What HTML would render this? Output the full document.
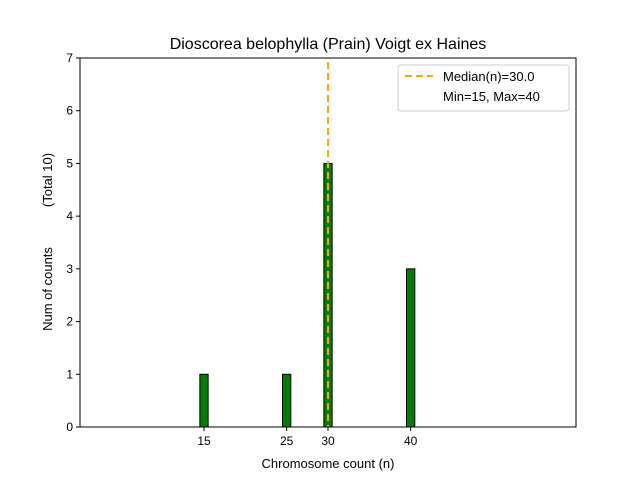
<!DOCTYPE html>
<html><head><meta charset="utf-8"><style>body{margin:0;background:#fff}svg{display:block;font-family:"Liberation Sans","DejaVu Sans",sans-serif}</style></head>
<body>
<svg id="chart" width="640" height="480">
<rect width="640" height="480" fill="#fff"/>
<text x="328" y="49" font-size="16" text-anchor="middle">Dioscorea belophylla (Prain) Voigt ex Haines</text>
<g id="plot"></g>
</svg>
<script>
const categories = [15, 25, 30, 40];
const counts = [1, 1, 5, 3];
const yTicks = [0, 1, 2, 3, 4, 5, 6, 7];
const xTicks = [15, 25, 30, 40];
const median = 30.0;
const minVal = 15, maxVal = 40, total = 10;

const L = 80, R = 576, T = 58, B = 427;
const xMin = 0, xMax = 60, yMax = 7;
const xs = v => L + (v - xMin) / (xMax - xMin) * (R - L);
const ys = v => B - v / yMax * (B - T);
const NS = "http://www.w3.org/2000/svg";
const g = document.getElementById('plot');
function mk(tag, attrs, parent) {
  const e = document.createElementNS(NS, tag);
  for (const k in attrs) e.setAttribute(k, attrs[k]);
  (parent || g).appendChild(e);
  return e;
}
const base = mk('line', {x1: xs(0), x2: xs(43.5), y1: B, y2: B, stroke: '#000', 'stroke-width': 1});


categories.forEach((c, i) => {
  const r = mk('rect', {x: xs(c - 0.5), y: ys(counts[i]), width: xs(c + 0.5) - xs(c - 0.5), height: B - ys(counts[i]), fill: 'green', stroke: '#000', 'stroke-width': 1});
  
  
});
const med = mk('line', {x1: xs(median), x2: xs(median), y1: T + 4, y2: B, stroke: 'orange', 'stroke-width': 2, 'stroke-dasharray': '7,4'});


const frame = mk('rect', {x: L, y: T, width: R - L, height: B - T, fill: 'none', stroke: '#000', 'stroke-width': 1});


yTicks.forEach(t => {
  const tk = mk('line', {x1: L - 4, x2: L, y1: ys(t), y2: ys(t), stroke: '#000'});
  
  
  const tx = mk('text', {x: L - 7, y: ys(t) + 4, 'font-size': 12, 'text-anchor': 'end'});
  tx.textContent = t;
  
  
});
xTicks.forEach(t => {
  const tk = mk('line', {x1: xs(t), x2: xs(t), y1: B, y2: B + 4, stroke: '#000'});
  
  
  const tx = mk('text', {x: xs(t), y: B + 18, 'font-size': 12, 'text-anchor': 'middle'});
  tx.textContent = t;
  
  
});
const xl = mk('text', {x: (L + R) / 2, y: 468, 'font-size': 13, 'text-anchor': 'middle'});
xl.textContent = 'Chromosome count (n)';


const yl = mk('text', {x: 0, y: 0, 'font-size': 13, 'text-anchor': 'middle', transform: 'translate(52,289) rotate(-90)'});
yl.textContent = 'Num of counts';


const yl2 = mk('text', {x: 0, y: 0, 'font-size': 13, 'text-anchor': 'middle', transform: 'translate(52,180) rotate(-90)'});
yl2.textContent = '(Total ' + total + ')';


const lg = mk('g', {});


mk('rect', {x: 398, y: 65, width: 171, height: 46, rx: 3, fill: '#fff', stroke: '#ccc'}, lg);
mk('line', {x1: 405, x2: 433, y1: 76, y2: 76, stroke: 'orange', 'stroke-width': 2, 'stroke-dasharray': '7,4'}, lg);
const t1 = mk('text', {x: 443, y: 81, 'font-size': 13}, lg);
t1.textContent = 'Median(n)=' + median.toFixed(1);


const t2 = mk('text', {x: 443, y: 101, 'font-size': 13}, lg);
t2.textContent = 'Min=' + minVal + ', Max=' + maxVal;


</script>
</body></html>
